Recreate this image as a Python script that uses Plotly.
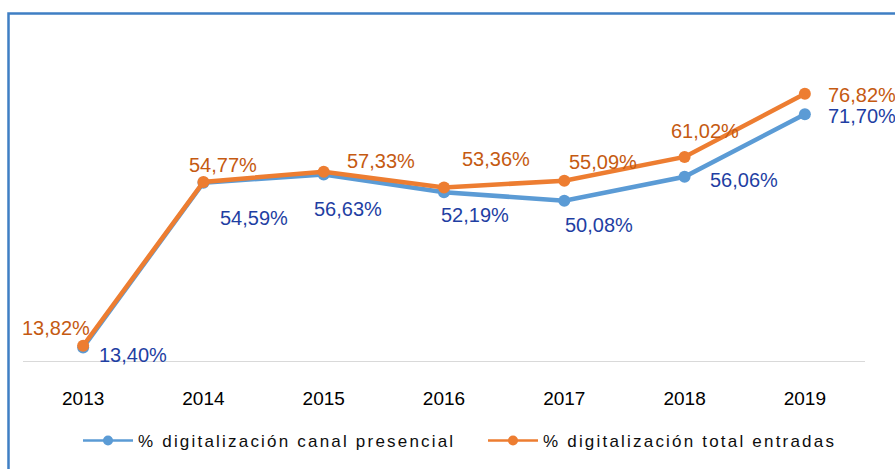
import plotly.graph_objects as go

years = ["2013", "2014", "2015", "2016", "2017", "2018", "2019"]
presencial = [13.40, 54.59, 56.63, 52.19, 50.08, 56.06, 71.70]
total_entradas = [13.82, 54.77, 57.33, 53.36, 55.09, 61.02, 76.82]
series_names = ["% digitalización canal presencial", "% digitalización total entradas"]

# label offsets (style only): (xshift to left edge, yshift of center)
off_pres = [(14, -8), (15, -35), (-12, -35), (-5, -23), (-1, -24), (23, -3), (21, -2)]
off_tot = [(-63, 18), (-16, 17), (21, 11), (16, 29), (3, 19), (-16, 26), (21, -1)]

BLUE = "#5b9bd5"
ORANGE = "#ed7d31"
BLUE_TXT = "#1f3fa3"
ORANGE_TXT = "#c55a11"


def fmt(v):
    return f"{v:.2f}".replace(".", ",") + "%"


def legend_name(s):
    return f'<span style="letter-spacing:2.2px">{s}</span>'


fig = go.Figure()
# data traces
fig.add_trace(go.Scatter(
    x=years, y=presencial, mode="lines+markers", showlegend=False,
    line=dict(color=BLUE, width=4.5), marker=dict(color=BLUE, size=12),
))
fig.add_trace(go.Scatter(
    x=years, y=total_entradas, mode="lines+markers", showlegend=False,
    line=dict(color=ORANGE, width=4.5), marker=dict(color=ORANGE, size=12),
))
# legend entries (thin line + marker as in the reference legend)
for nm, col in zip(series_names, [BLUE, ORANGE]):
    fig.add_trace(go.Scatter(
        x=[None], y=[None], mode="lines+markers", name=legend_name(nm),
        line=dict(color=col, width=2.5), marker=dict(color=col, size=10),
    ))

for vals, offs, col in [(presencial, off_pres, BLUE_TXT), (total_entradas, off_tot, ORANGE_TXT)]:
    for i, (v, (dx, dy)) in enumerate(zip(vals, offs)):
        fig.add_annotation(
            x=i, y=v, xref="x", yref="y", text=fmt(v), showarrow=False,
            xanchor="left", yanchor="middle", xshift=dx, yshift=dy,
            font=dict(family="Arial", size=20, color=col),
        )

W, H = 895, 469
ml, mr, mt, mb = 23, 30, 41, 108
pw = W - ml - mr
ph = H - mt - mb

fig.update_layout(
    width=W, height=H,
    margin=dict(l=ml, r=mr, t=mt, b=mb, pad=0),
    paper_bgcolor="white", plot_bgcolor="white",
    font=dict(family="Arial", color="#000000"),
    xaxis=dict(
        type="category", range=[-0.5, 6.5], showgrid=False, zeroline=False,
        showline=True, linecolor="#d9d9d9", linewidth=1,
        ticks="", ticklabelstandoff=20,
        tickfont=dict(family="Arial", size=19, color="#000000"),
    ),
    yaxis=dict(range=[10, 90], showgrid=False, zeroline=False, showticklabels=False,
               showline=False),
    showlegend=True,
    legend=dict(
        orientation="h", xref="container", yref="container",
        x=78 / W, xanchor="left", y=1 - 441 / H, yanchor="middle",
        itemwidth=50, entrywidth=340, bgcolor="rgba(0,0,0,0)",
        font=dict(family="Arial", size=17, color="#0d0d0d"),
    ),
)
fig.add_shape(
    type="rect", xref="paper", yref="paper",
    x0=(8.5 - ml) / pw, x1=1.2, y0=-0.6, y1=(H - mb - 13.5) / ph,
    line=dict(color="#3f7fc4", width=2.5), fillcolor="rgba(0,0,0,0)", layer="above",
)

fig.write_html("out.html", config={"displayModeBar": False},
               post_script="document.body.style.margin='0';")
